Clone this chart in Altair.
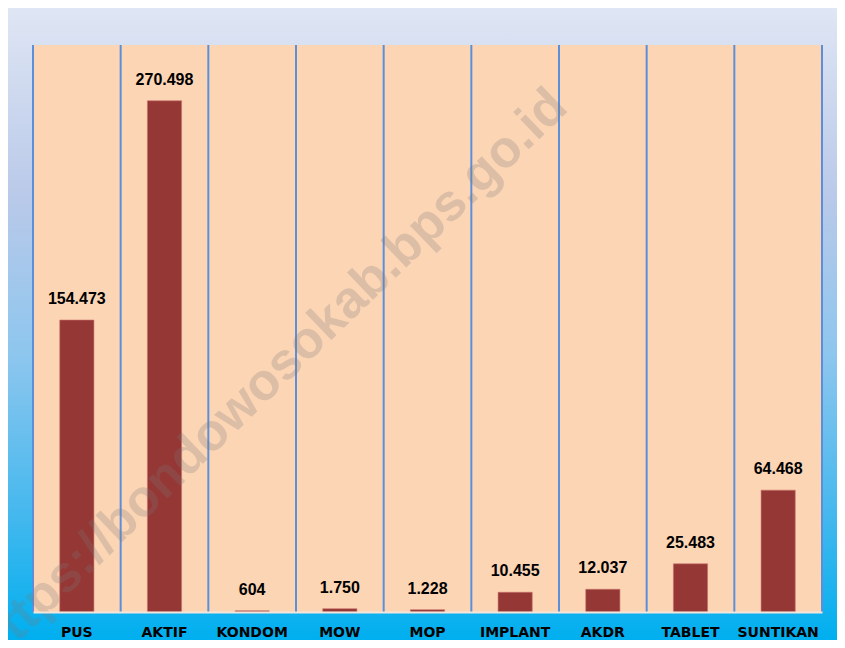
import altair as alt
import pandas as pd

categories = ["PUS", "AKTIF", "KONDOM", "MOW", "MOP", "IMPLANT", "AKDR", "TABLET", "SUNTIKAN"]
values = [154473, 270498, 604, 1750, 1228, 10455, 12037, 25483, 64468]
labels = [f"{v:,}".replace(",", ".") for v in values]
watermark = ["https://bondowosokab.bps.go.id"]

W, H = 789, 567

df = pd.DataFrame({"cat": categories, "val": values, "lab": labels})
one = pd.DataFrame({"t": watermark})

xenc = alt.X("cat:N", sort=categories,
             scale=alt.Scale(paddingInner=0, paddingOuter=0),
             axis=alt.Axis(title=None, labelAngle=0, ticks=False, domain=True,
                           domainColor="#F5E6DC", domainWidth=2, zindex=1,
                           labelFont="DejaVu Sans", labelFontWeight="bold",
                           labelFontSize=14, labelColor="#000000",
                           labelAlign="center", labelPadding=13, labelBaseline="top"))
yenc = alt.Y("val:Q", scale=alt.Scale(domain=[0, 300000]), axis=None)

grad = {
    "gradient": "linear", "x1": 0, "y1": 0, "x2": 0, "y2": 1,
    "stops": [
        {"offset": 0, "color": "#DFE6F4"},
        {"offset": 0.3, "color": "#B9C9E9"},
        {"offset": 0.55, "color": "#8DC6EE"},
        {"offset": 0.8, "color": "#45B8EE"},
        {"offset": 1, "color": "#00AFEF"},
    ],
}

bg = alt.Chart(one).mark_rect(fill=grad).encode(
    x=alt.value(-25), x2=alt.value(W + 15), y=alt.value(-37), y2=alt.value(H + 28))

plot_bg = alt.Chart(one).mark_rect(fill="#FCD5B5").encode(
    x=alt.value(0), x2=alt.value(W), y=alt.value(0), y2=alt.value(H))

rules = alt.Chart(df).mark_rule(color="#5B8FDB", strokeWidth=2).encode(
    x=alt.X("cat:N", sort=categories, bandPosition=0,
            scale=alt.Scale(paddingInner=0, paddingOuter=0)),
    y=alt.value(0), y2=alt.value(H))

right_rule = alt.Chart(one).mark_rule(color="#5B8FDB", strokeWidth=2).encode(
    x=alt.value(W), y=alt.value(0), y2=alt.value(H))

bars = alt.Chart(df).mark_bar(color="#953735", stroke="#C9726F", strokeWidth=0.6,
                              width=alt.RelativeBandSize(0.39)).encode(x=xenc, y=yenc)

text = alt.Chart(df).mark_text(font="Liberation Sans", fontWeight="bold", fontSize=16,
                               color="#000000", baseline="alphabetic", dy=-16).encode(
    x=alt.X("cat:N", sort=categories), y=yenc, text="lab:N")

wm = alt.Chart(one).mark_text(font="Liberation Sans", fontWeight="bold", fontSize=52,
                              color="#7A7A7A", opacity=0.24, angle=316,
                              align="center", baseline="middle").encode(
    x=alt.value(238), y=alt.value(331), text="t:N")

chart = alt.layer(bg, plot_bg, rules, right_rule, bars, text, wm).properties(
    width=W, height=H,
    autosize=alt.AutoSizeParams(type="none"),
    padding={"left": 25, "top": 37, "right": 15, "bottom": 28},
    background="#FFFFFF",
).configure_view(stroke=None)

chart.save("out.html", embed_options={"renderer": "svg", "actions": False})
